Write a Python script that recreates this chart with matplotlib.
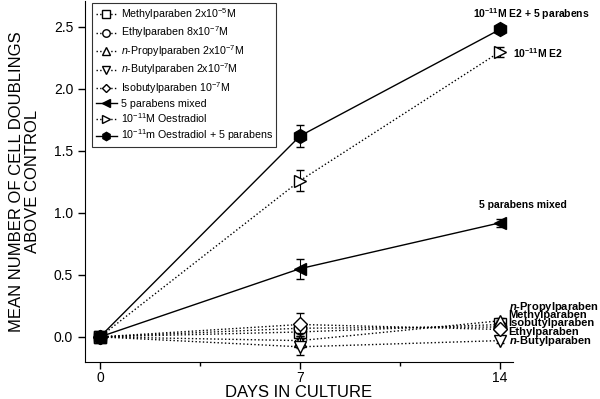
import matplotlib.pyplot as plt
from matplotlib.ticker import MultipleLocator

plt.rcParams['font.family'] = ['Liberation Sans', 'DejaVu Sans']
plt.rcParams['mathtext.fontset'] = 'custom'
plt.rcParams['mathtext.rm'] = 'Liberation Sans'
plt.rcParams['mathtext.it'] = 'Liberation Sans:italic'
plt.rcParams['mathtext.bf'] = 'Liberation Sans:bold'
plt.rcParams['mathtext.bfit'] = 'Liberation Sans:italic:bold'
plt.rcParams['mathtext.default'] = 'regular'

days = [0, 7, 14]

methyl = [0, 0.04, 0.10]
methyl_err = [0, 0.06, 0.02]
ethyl = [0, 0.07, 0.08]
ethyl_err = [0, 0.06, 0.02]
propyl = [0, -0.03, 0.13]
propyl_err = [0, 0.06, 0.02]
butyl = [0, -0.08, -0.03]
butyl_err = [0, 0.07, 0.02]
isobutyl = [0, 0.10, 0.06]
isobutyl_err = [0, 0.09, 0.02]
mixed = [0, 0.55, 0.92]
mixed_err = [0, 0.08, 0.03]
e2 = [0, 1.26, 2.30]
e2_err = [0, 0.085, 0.04]
e2_mix = [0, 1.62, 2.48]
e2_mix_err = [0, 0.09, 0.03]

series = [
    (methyl, methyl_err, 's', 'white', ':', 'Methylparaben 2x10$^{-5}$M'),
    (ethyl, ethyl_err, 'o', 'white', ':', 'Ethylparaben 8x10$^{-7}$M'),
    (propyl, propyl_err, '^', 'white', ':', '$\\it{n}$-Propylparaben 2x10$^{-7}$M'),
    (butyl, butyl_err, 'v', 'white', ':', '$\\it{n}$-Butylparaben 2x10$^{-7}$M'),
    (isobutyl, isobutyl_err, 'D', 'white', ':', 'Isobutylparaben 10$^{-7}$M'),
    (mixed, mixed_err, '<', 'black', '-', '5 parabens mixed'),
    (e2, e2_err, '>', 'white', ':', '10$^{-11}$M Oestradiol'),
    (e2_mix, e2_mix_err, 'h', 'black', '-', '10$^{-11}$m Oestradiol + 5 parabens'),
]

fig = plt.figure(figsize=(6, 3.99), dpi=100)
ax = fig.add_axes([0.1417, 0.0935, 0.7133, 0.9045])

for vals, err, mk, fc, ls, lab in series:
    ms = 10 if mk == 'h' else (7 if mk == 'D' else 9)
    ax.errorbar(days, vals, yerr=err, fmt='none', ecolor='black', capsize=3, elinewidth=0.8)
    ax.plot(days, vals, color='black', marker=mk, mfc=fc, mec='black',
            ms=ms, ls=ls, lw=1.0, label=lab)

ax.set_xlim(-0.52, 14.45)
ax.set_ylim(-0.2, 2.71)
ax.set_xticks([0, 7, 14])
ax.xaxis.set_minor_locator(MultipleLocator(3.5))
ax.set_yticks([0, 0.5, 1.0, 1.5, 2.0, 2.5])
ax.set_yticklabels(['0.0', '0.5', '1.0', '1.5', '2.0', '2.5'])
ax.tick_params(axis='both', which='major', length=5, width=1, labelsize=10, direction='out')
ax.tick_params(axis='x', which='major', pad=2)
ax.tick_params(axis='x', which='minor', length=3, width=1)
ax.spines['top'].set_visible(False)
ax.spines['right'].set_visible(False)

ax.set_xlabel('DAYS IN CULTURE', fontsize=12, labelpad=0)
ax.set_ylabel('MEAN NUMBER OF CELL DOUBLINGS\nABOVE CONTROL', fontsize=12, labelpad=10,
              linespacing=1.05)

leg = ax.legend(loc='upper left', bbox_to_anchor=(0.012, 1.0), borderaxespad=0.2,
                fontsize=7.7, frameon=True, fancybox=False, edgecolor='black',
                markerscale=0.6, handlelength=2.0, labelspacing=0.25, borderpad=0.3,
                handletextpad=0.4)
leg.get_frame().set_linewidth(0.8)

# labels at day 14
ax.text(15.1, 2.60, '$\\mathbf{10^{-11}}$M E2 + 5 parabens', fontsize=7.5, fontweight='bold',
        ha='center', va='center')
ax.text(14.46, 2.29, '$\\mathbf{10^{-11}}$M E2', fontsize=7.5, fontweight='bold',
        ha='left', va='center')
ax.text(14.8, 1.06, '5 parabens mixed', fontsize=7.5, fontweight='bold', ha='center', va='center')
right_labels = ['$\\mathbfit{n}$-Propylparaben', 'Methylparaben', 'Isobutylparaben',
                'Ethylparaben', '$\\mathbfit{n}$-Butylparaben']
right_y = [0.24, 0.177, 0.113, 0.04, -0.035]
for lab, yy in zip(right_labels, right_y):
    ax.text(14.3, yy, lab, fontsize=8, fontweight='bold', ha='left', va='center')

fig.savefig('out.png', dpi=100)
